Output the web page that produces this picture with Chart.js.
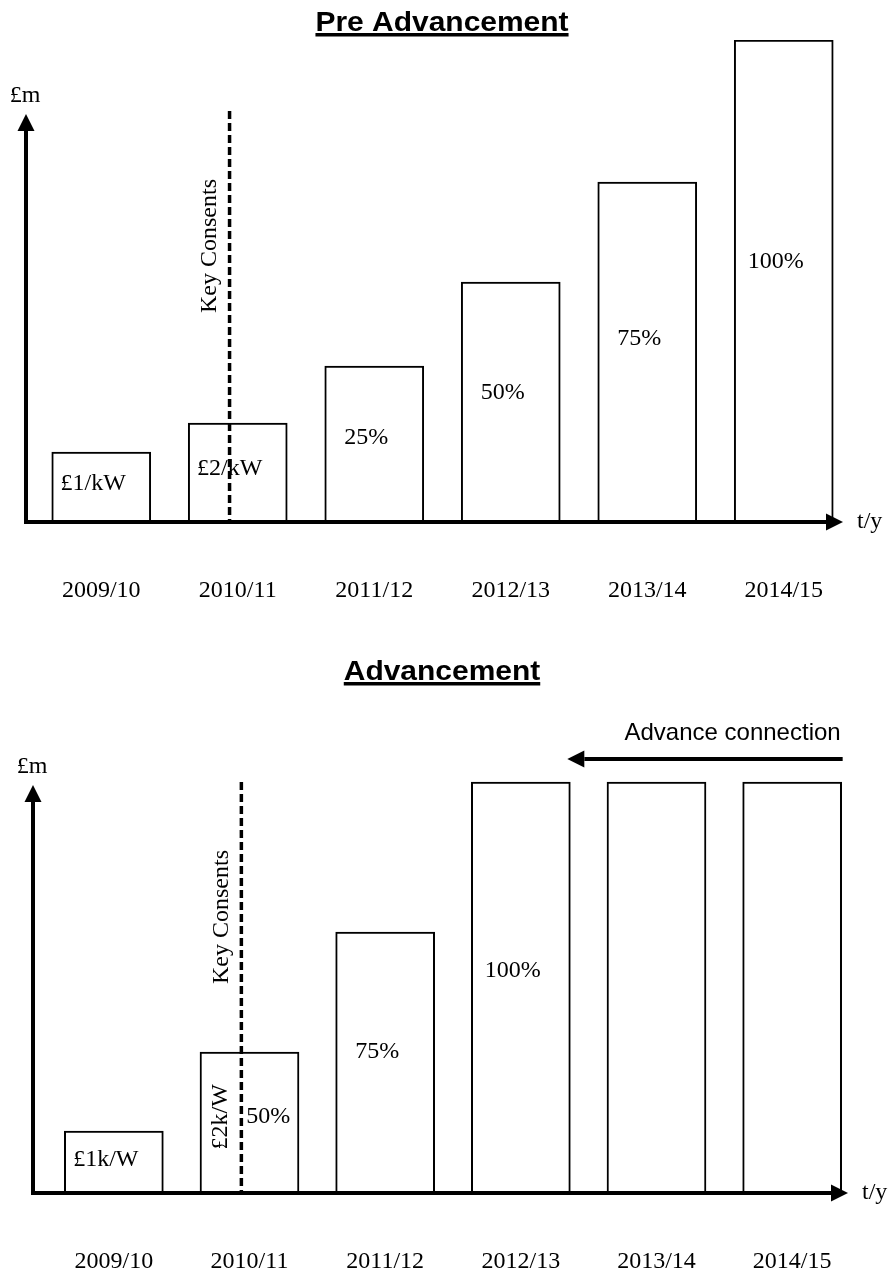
<!DOCTYPE html>
<html lang="en">
<head>
  <meta charset="UTF-8" />
  <title>Pre Advancement / Advancement</title>
  <script src="https://cdn.jsdelivr.net/npm/chart.js"></script>
  <style>
    body { margin: 0; background: #fff; }
    canvas { display: block; }
  </style>
</head>
<body>
  <canvas id="pre" width="890" height="640"></canvas>
  <canvas id="adv" width="890" height="636"></canvas>

  <script>
    // data (arbitrary £m units, same scale in both charts)
    const years = ['2009/10', '2010/11', '2011/12', '2012/13', '2013/14', '2014/15'];
    const preValues = [7.0, 9.9, 15.6, 24.0, 34.0, 48.2];
    const advValues = [6.2, 14.1, 26.1, 41.1, 41.1, 41.1];
    const preNotes = ['£1/kW', '£2/kW', '25%', '50%', '75%', '100%'];
    const advNotes = ['£1k/W', '50%', '75%', '100%', '', ''];
    const keyConsentsAt = 0.94;   // on the year axis, just before the middle of 2010/11
    const keyConsentsTop = 41.1;
    const axisTop = 40.8;
    const yMax = 48.2;

    const serif = '24px "Liberation Serif", "Times New Roman", serif';
    const sans = '"Liberation Sans", Arial, sans-serif';

    function arrow(ctx, x1, y1, x2, y2) {
      const len = 17, half = 8.5;
      const a = Math.atan2(y2 - y1, x2 - x1);
      const bx = x2 - len * Math.cos(a), by = y2 - len * Math.sin(a);
      ctx.beginPath(); ctx.moveTo(x1, y1); ctx.lineTo(bx, by); ctx.stroke();
      ctx.beginPath();
      ctx.moveTo(x2, y2);
      ctx.lineTo(bx + half * Math.sin(a), by - half * Math.cos(a));
      ctx.lineTo(bx - half * Math.sin(a), by + half * Math.cos(a));
      ctx.closePath(); ctx.fill();
    }

    function rotatedText(ctx, text, x, y) {
      ctx.save();
      ctx.translate(x, y); ctx.rotate(-Math.PI / 2);
      ctx.textAlign = 'center'; ctx.textBaseline = 'middle';
      ctx.fillText(text, 0, 0);
      ctx.restore();
    }

    const sketch = {
      id: 'sketch',
      afterDatasetsDraw(chart, args, o) {
        const { ctx, chartArea: area, scales: { x, y } } = chart;
        const bars = chart.getDatasetMeta(0).data;
        const base = y.getPixelForValue(0);
        const axisX = area.left - o.axisInset;
        const tipX = area.right - o.arrowInset;
        const kx = x.getPixelForValue(keyConsentsAt);
        ctx.save();
        ctx.fillStyle = '#000';
        ctx.strokeStyle = '#000';

        // underlined title
        ctx.font = 'bold 28px ' + sans;
        ctx.textAlign = 'center'; ctx.textBaseline = 'alphabetic';
        const tw = ctx.measureText(o.title).width * 1.07;
        const cx = chart.width / 2 - 3;
        ctx.save(); ctx.translate(cx, o.titleY); ctx.scale(1.07, 1); ctx.fillText(o.title, 0, 0); ctx.restore();
        ctx.fillRect(cx - tw / 2, o.titleY + 2, tw, 3.5);

        // Key Consents line
        ctx.lineWidth = 3.5;
        ctx.setLineDash([8, 4]);
        ctx.beginPath();
        ctx.moveTo(kx, y.getPixelForValue(keyConsentsTop));
        ctx.lineTo(kx, base);
        ctx.stroke();
        ctx.setLineDash([]);

        // axes with arrow heads
        ctx.lineWidth = 4;
        arrow(ctx, axisX, base + 2, axisX, y.getPixelForValue(axisTop));
        arrow(ctx, axisX - 2, base, tipX, base);

        ctx.font = serif;
        ctx.textAlign = 'center'; ctx.textBaseline = 'alphabetic';
        ctx.fillText('£m', axisX - 1, y.getPixelForValue(42));
        ctx.textAlign = 'left'; ctx.textBaseline = 'middle';
        ctx.fillText('t/y', tipX + 14, base);

        rotatedText(ctx, 'Key Consents', kx - 20, y.getPixelForValue(27.6));

        // notes inside the bars
        ctx.textAlign = 'center'; ctx.textBaseline = 'middle';
        bars.forEach((bar, i) => {
          const t = o.notes[i];
          if (!t) return;
          const ty = base - 0.54 * (base - bar.y);
          let tx = bar.x - 8;
          if (o.splitNote && i === 1) {
            tx = kx + 27;
            rotatedText(ctx, o.splitNote, kx - 21, ty);
          }
          ctx.fillText(t, tx, ty);
        });

        // year labels
        years.forEach((lab, i) => ctx.fillText(lab, x.getPixelForValue(i), base + 69));

        if (o.advance) {
          const b4 = bars[3], b6 = bars[5];
          const ay = b4.y - 23;
          const tail = b6.x + b6.width / 2 + 1;
          ctx.lineWidth = 4;
          arrow(ctx, tail, ay, b4.x + b4.width / 2 - 3, ay);
          ctx.font = '24px ' + sans;
          ctx.textAlign = 'right'; ctx.textBaseline = 'alphabetic';
          ctx.fillText('Advance connection', tail - 2, ay - 19);
        }
        ctx.restore();
      }
    };

    function makeChart(id, values, pad, opts) {
      return new Chart(document.getElementById(id), {
        type: 'bar',
        data: {
          labels: years,
          datasets: [{
            data: values,
            backgroundColor: '#fff',
            borderColor: '#000',
            borderWidth: 2,
            barThickness: 99
          }]
        },
        options: {
          responsive: false,
          animation: false,
          layout: { padding: pad },
          scales: {
            x: { display: false },
            y: { display: false, min: 0, max: yMax }
          },
          plugins: { legend: { display: false }, tooltip: { enabled: false }, sketch: opts }
        },
        plugins: [sketch]
      });
    }

    makeChart('pre', preValues, { left: 33, right: 38, top: 40, bottom: 118 },
      { title: 'Pre Advancement', titleY: 31, axisInset: 7, arrowInset: 9, notes: preNotes });
    makeChart('adv', advValues, { left: 46, right: 30, top: 71, bottom: 83 },
      { title: 'Advancement', titleY: 40, axisInset: 13, arrowInset: 12, notes: advNotes,
        splitNote: '£2k/W', advance: true });
  </script>
</body>
</html>
